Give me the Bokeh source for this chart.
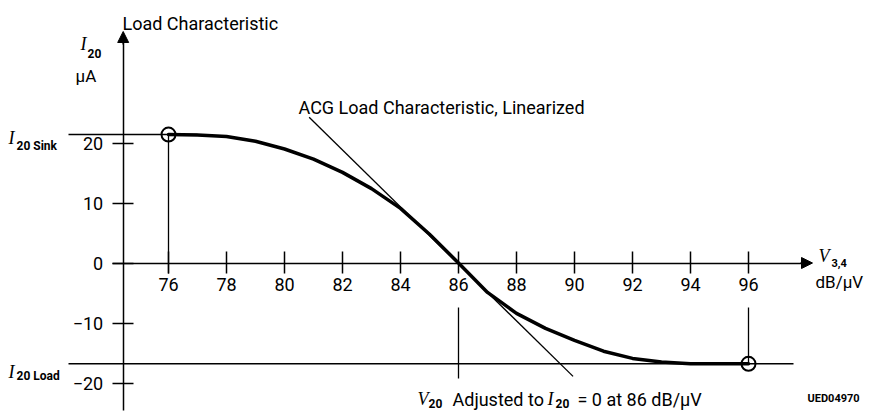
from bokeh.plotting import figure
from bokeh.models import Range1d, LinearAxis, FixedTicker, Label, Arrow, NormalHead
from bokeh.embed import file_html
from bokeh.resources import INLINE

# ---- data ----
v34 = [76, 77, 78, 79, 80, 81, 82, 83, 84, 85, 86, 87, 88, 89, 90, 91, 92, 93, 94, 95, 96]
i20 = [21.4, 21.35, 21.1, 20.3, 19.0, 17.3, 15.1, 12.4, 9.1, 4.8, 0.0, -4.9, -8.4, -10.9,
       -12.9, -14.7, -15.9, -16.5, -16.8, -16.8, -16.8]
lin_v = [80.85, 89.95]
lin_i = [24.3, -18.9]
x_ticks = [76, 78, 80, 82, 84, 86, 88, 90, 92, 94, 96]
y_ticks = [-20, -10, 0, 10, 20]
i_sink = 21.4
i_load = -16.8
v_sink = 76
v_load = 96
v_adjust = 86

# ---- pixel <-> data mapping helpers (image pixel coords) ----
W, H = 874, 412
def X(px):
    return 76 + (px - 168) / 29.0
def Y(py):
    return (262.5 - py) / 6.0

p = figure(width=W, height=H, output_backend="svg", toolbar_location=None,
           x_axis_type=None, y_axis_type=None,
           x_range=Range1d(X(0), X(W)), y_range=Range1d(Y(H), Y(0)),
           min_border=0, outline_line_color=None)
p.background_fill_color = "white"
p.border_fill_color = "white"

FONT = "Roboto"
SERIF = "Liberation Serif"

xaxis = LinearAxis(fixed_location=0, ticker=FixedTicker(ticks=x_ticks),
                   bounds=(X(112), X(801)),
                   major_tick_in=12, major_tick_out=10,
                   minor_tick_line_color=None,
                   axis_line_width=1.5, axis_line_color="black",
                   major_tick_line_width=1.5, major_tick_line_color="black",
                   major_label_standoff=5,
                   major_label_text_font=FONT, major_label_text_font_size="18px",
                   major_label_text_color="black")
p.add_layout(xaxis, "below")

yaxis = LinearAxis(fixed_location=X(122.7), ticker=FixedTicker(ticks=y_ticks),
                   bounds=(Y(410), Y(42)),
                   major_tick_in=10, major_tick_out=11,
                   minor_tick_line_color=None,
                   axis_line_width=1.5, axis_line_color="black",
                   major_tick_line_width=1.5, major_tick_line_color="black",
                   major_label_standoff=9,
                   major_label_text_font=FONT, major_label_text_font_size="18px",
                   major_label_text_color="black")
p.add_layout(yaxis, "left")

# arrow heads
p.add_layout(Arrow(end=NormalHead(size=11, fill_color="black", line_color="black"),
                   x_start=X(800), y_start=0, x_end=X(812), y_end=0,
                   line_color="black", line_width=1.5))
p.add_layout(Arrow(end=NormalHead(size=11, fill_color="black", line_color="black"),
                   x_start=X(122.7), y_start=Y(44), x_end=X(122.7), y_end=Y(31),
                   line_color="black", line_width=1.5))

# sink / load reference lines
p.line([X(68), v_sink + 1], [i_sink, i_sink], line_color="black", line_width=1.5)
p.line([X(68), X(793)], [i_load, i_load], line_color="black", line_width=1.5)

# vertical guide lines
p.line([v_sink, v_sink], [i_sink, Y(273)], line_color="black", line_width=1.3)
p.line([v_adjust, v_adjust], [Y(307), Y(378)], line_color="black", line_width=1.3)
p.line([v_load, v_load], [Y(307), i_load], line_color="black", line_width=1.3)

# linearized characteristic
p.line(lin_v, lin_i, line_color="black", line_width=1.3)

# main curve
p.line(v34, i20, line_color="black", line_width=3.5, line_join="round", line_cap="round")

# end-point circles
p.scatter([v_sink, v_load], [i_sink, i_load], marker="circle", size=14,
          fill_color=None, line_color="black", line_width=2)

def lab(px, py, text, size="18px", font=FONT, style="normal"):
    p.add_layout(Label(x=X(px), y=Y(py), text=text, text_align="left",
                       text_baseline="alphabetic", text_font=font,
                       text_font_size=size, text_font_style=style,
                       text_color="black"))

lab(122, 23, "Load Characteristic")
# y-axis unit label
lab(80, 43, "I", "18px", SERIF, "italic")
lab(87, 53, "20", "12px", FONT, "bold")
lab(75, 75, "µA", "17px")
# I20 Sink / I20 Load
lab(8, 137, "I", "18px", SERIF, "italic")
lab(16, 145, "20 Sink", "12px", FONT, "bold")
lab(8, 371, "I", "18px", SERIF, "italic")
lab(16, 375, "20 Load", "12px", FONT, "bold")
# linearized annotation
lab(298, 107, "ACG Load Characteristic, Linearized")
# x-axis unit label
lab(818, 255, "V", "18px", SERIF, "italic")
lab(831, 262, "3,4", "11px", FONT, "bold")
lab(815, 281, "dB/µV", "17px")
# bottom annotation
lab(417, 398, "V", "18px", SERIF, "italic")
lab(428, 403, "20", "12px", FONT, "bold")
lab(452, 399, "Adjusted to")
lab(547, 398, "I", "18px", SERIF, "italic")
lab(555, 403, "20", "12px", FONT, "bold")
lab(577, 399, "= 0 at 86 dB/µV")
lab(807, 398, "UED04970", "11px", FONT, "bold")

open("out.html", "w").write(file_html(p, INLINE))
